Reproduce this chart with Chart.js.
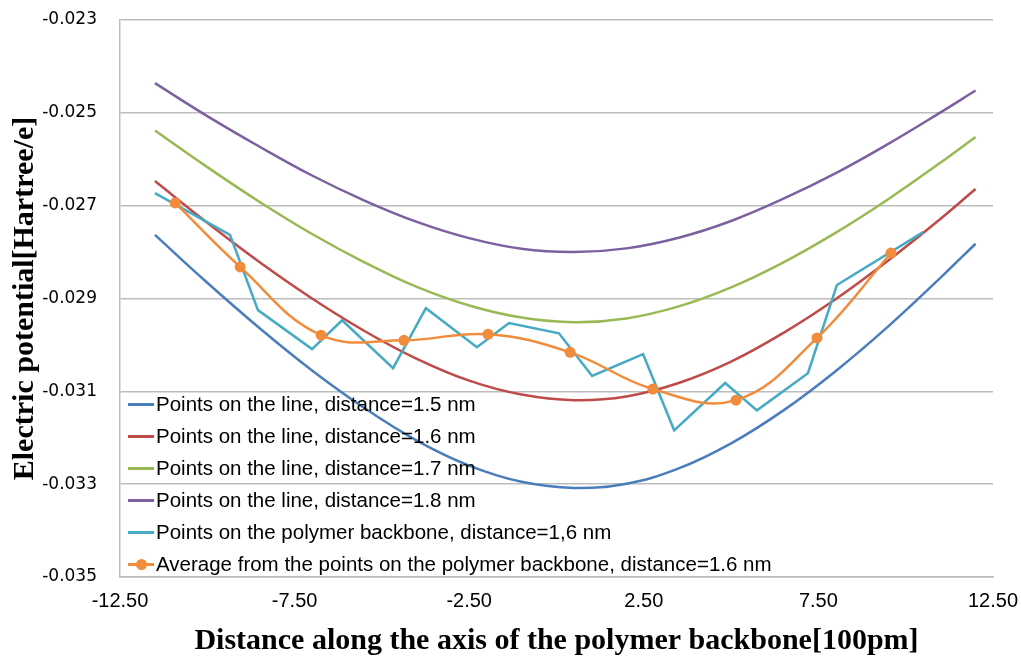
<!DOCTYPE html>
<html>
<head>
<meta charset="utf-8">
<script src="https://cdn.jsdelivr.net/npm/chart.js@4.4.1/dist/chart.umd.min.js"></script>
<style>
  body { margin: 0; background: #fff; }
  #wrap { position: relative; width: 1021px; height: 656px; }
  #chart { display: block; }
  #legend { position: absolute; font: 20.5px 'Liberation Sans', Arial, sans-serif; color: #000; }
  .row { display: flex; align-items: center; height: 32px; white-space: nowrap; }
  .swatch { position: relative; width: 26px; height: 3px; margin-right: 2px; }
  .dot { position: absolute; left: 8px; top: -4px; width: 11px; height: 11px; border-radius: 50%; }
</style>
</head>
<body>
<div id="wrap">
  <canvas id="chart" width="1021" height="656"></canvas>
  <div id="legend"></div>
</div>
<script>
// distance along the backbone axis [100pm] for the smooth reference lines
const curveX = [-11.5, -10, -8.5, -7, -5.5, -4, -2.5, -1, 0.5, 2, 3.5, 5, 6.5, 8, 9.5, 11, 12];
const line15 = [-0.02763, -0.02866, -0.02964, -0.03055, -0.03136, -0.03206, -0.03260, -0.03295, -0.03308, -0.03299, -0.03266, -0.03212, -0.03141, -0.03056, -0.02960, -0.02855, -0.02782];
const line16 = [-0.02647, -0.02737, -0.02822, -0.02900, -0.02970, -0.03030, -0.03077, -0.03107, -0.03119, -0.03111, -0.03082, -0.03036, -0.02974, -0.02901, -0.02818, -0.02728, -0.02664];
const line17 = [-0.02538, -0.02617, -0.02692, -0.02761, -0.02822, -0.02875, -0.02915, -0.02941, -0.02951, -0.02943, -0.02917, -0.02876, -0.02822, -0.02758, -0.02686, -0.02607, -0.02552];
const line18 = [-0.02436, -0.02507, -0.02573, -0.02635, -0.02689, -0.02735, -0.02770, -0.02793, -0.02800, -0.02792, -0.02769, -0.02733, -0.02685, -0.02630, -0.02567, -0.02499, -0.02452];

// points on the polymer backbone
const backboneX = [-11.50, -9.35, -8.55, -7.00, -6.14, -4.68, -3.74, -2.28, -1.36, 0.07, 1.02, 2.48, 3.37, 4.83, 5.74, 7.20, 8.03, 10.50];
const backboneY = [-0.02673, -0.02763, -0.02925, -0.03009, -0.02947, -0.03050, -0.02921, -0.03005, -0.02953, -0.02975, -0.03067, -0.03020, -0.03184, -0.03082, -0.03141, -0.03061, -0.02871, -0.02757];

// averages of the backbone points
const averageX = [-10.92, -9.06, -6.74, -4.37, -1.96, 0.39, 2.76, 5.14, 7.46, 9.58];
const averageY = [-0.02694, -0.02832, -0.02979, -0.02990, -0.02977, -0.03016, -0.03095, -0.03119, -0.02985, -0.02802];

const seriesNames = [
  'Points on the line, distance=1.5 nm',
  'Points on the line, distance=1.6 nm',
  'Points on the line, distance=1.7 nm',
  'Points on the line, distance=1.8 nm',
  'Points on the polymer backbone, distance=1,6 nm',
  'Average from the points on the polymer backbone, distance=1.6 nm'
];
const seriesColors = ['#4A7EBB', '#BE4B48', '#98B954', '#7D60A0', '#46AAC5', '#F08C3C'];

const xTicks = [-12.5, -7.5, -2.5, 2.5, 7.5, 12.5];
const yTicks = [-0.035, -0.033, -0.031, -0.029, -0.027, -0.025, -0.023];

const zip = (xs, ys) => xs.map((x, i) => ({ x, y: ys[i] }));

const smoothLine = (idx, ys) => ({
  label: seriesNames[idx],
  data: zip(curveX, ys),
  borderColor: seriesColors[idx],
  borderWidth: 2.5,
  pointRadius: 0,
  tension: 0.4,
  order: 6 - idx
});

const datasets = [
  smoothLine(0, line15),
  smoothLine(1, line16),
  smoothLine(2, line17),
  smoothLine(3, line18),
  {
    label: seriesNames[4],
    data: zip(backboneX, backboneY),
    borderColor: seriesColors[4],
    borderWidth: 2.5,
    pointRadius: 0,
    tension: 0,
    order: 2
  },
  {
    label: seriesNames[5],
    data: zip(averageX, averageY),
    borderColor: seriesColors[5],
    backgroundColor: seriesColors[5],
    borderWidth: 2.5,
    pointRadius: 5.5,
    pointBorderWidth: 0,
    tension: 0.4,
    order: 1
  }
];

const gridColor = '#BDBDBD';

const chart = new Chart(document.getElementById('chart'), {
  type: 'line',
  data: { datasets },
  options: {
    responsive: false,
    animation: false,
    layout: { padding: { top: 20, right: 28, left: 0, bottom: 0 } },
    plugins: { legend: { display: false }, tooltip: { enabled: false } },
    scales: {
      x: {
        type: 'linear',
        min: -12.5,
        max: 12.5,
        afterBuildTicks: (scale) => { scale.ticks = xTicks.map((v) => ({ value: v })); },
        afterFit: (scale) => {
          scale.height = 79;
          scale.paddingLeft = 0;
          scale.paddingRight = 0;
        },
        grid: { display: false, drawTicks: false },
        border: { display: true, color: gridColor, width: 1.5 },
        ticks: {
          color: '#000',
          padding: 12,
          maxRotation: 0,
          font: { family: "'Liberation Sans', Arial, sans-serif", size: 20 },
          callback: (v) => Number(v).toFixed(2)
        },
        title: {
          display: true,
          text: 'Distance along the axis of the polymer backbone[100pm]',
          color: '#000',
          padding: { top: 0, bottom: -3 },
          font: { family: "'Liberation Serif', 'Times New Roman', serif", size: 30, weight: 'bold' }
        }
      },
      y: {
        min: -0.035,
        max: -0.023,
        afterBuildTicks: (scale) => { scale.ticks = yTicks.map((v) => ({ value: v })); },
        afterFit: (scale) => {
          scale.width = 120;
          scale.paddingTop = 0;
          scale.paddingBottom = 0;
        },
        grid: { color: gridColor, lineWidth: 1.5, drawTicks: false },
        border: { display: true, color: gridColor, width: 1.5 },
        ticks: {
          color: '#000',
          padding: 23,
          font: { family: "'DejaVu Sans', sans-serif", size: 17 },
          callback: (v) => Number(v).toFixed(3)
        },
        title: {
          display: true,
          text: 'Electric potential[Hartree/e]',
          color: '#000',
          padding: { top: 7, bottom: 0 },
          font: { family: "'Liberation Serif', 'Times New Roman', serif", size: 30, weight: 'bold' }
        }
      }
    }
  }
});

// legend sits inside the plot, bottom-left, like the original
const legendBox = document.getElementById('legend');
const area = chart.chartArea;
legendBox.style.left = (area.left + 8) + 'px';
legendBox.style.top = (area.bottom + 3 - datasets.length * 32) + 'px';
datasets.forEach((ds, i) => {
  const row = document.createElement('div');
  row.className = 'row';
  const marker = i === 5 ? `<span class="dot" style="background:${ds.borderColor}"></span>` : '';
  row.innerHTML = `<span class="swatch" style="background:${ds.borderColor}">${marker}</span><span>${ds.label}</span>`;
  legendBox.appendChild(row);
});
</script>
</body>
</html>
